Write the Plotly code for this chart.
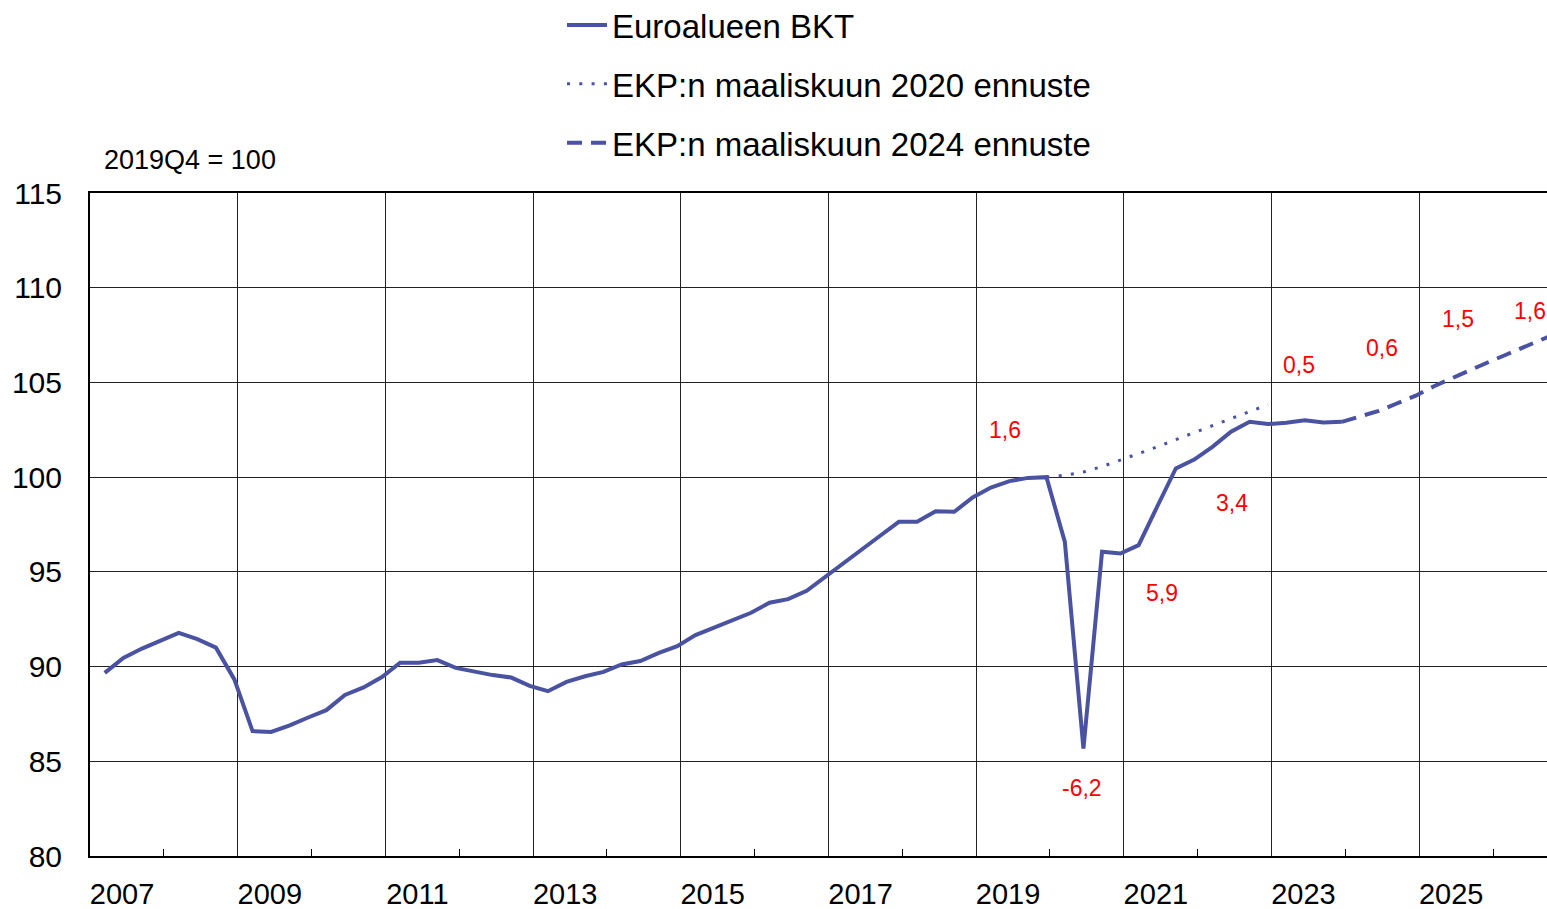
import plotly.graph_objects as go

# ---- data ----
quarters = [f"{y}Q{q}" for y in range(2007, 2024) for q in range(1, 5)]
gdp = [
    89.67, 90.46, 90.95, 91.37,
    91.78, 91.45, 91.00, 89.32,
    86.59, 86.55, 86.90, 87.31,
    87.70, 88.50, 88.90, 89.45,
    90.20, 90.20, 90.34, 89.93,
    89.72, 89.55, 89.42, 88.98,
    88.70, 89.19, 89.49, 89.72,
    90.11, 90.29, 90.72, 91.08,
    91.66, 92.06, 92.41, 92.84,
    93.37, 93.56, 94.00, 94.74,
    95.45, 96.20, 96.92, 97.64,
    97.64, 98.20, 98.17, 98.93,
    99.45, 99.79, 99.96, 100.00,
    96.58, 85.67, 96.06, 95.97,
    96.41, 98.45, 100.46, 100.93,
    101.60, 102.40, 102.92, 102.80,
    102.87, 103.00, 102.89, 102.92,
]

proj2020_quarters = ["2019Q4"] + [f"{y}Q{q}" for y in range(2020, 2023) for q in range(1, 5)]
proj2020 = [100.00, 100.10, 100.27, 100.56, 100.90, 101.24, 101.60, 101.98, 102.36,
            102.72, 103.09, 103.46, 103.83]

proj2024_quarters = ["2023Q4"] + [f"{y}Q{q}" for y in range(2024, 2027) for q in range(1, 5)]
proj2024 = [102.92, 103.20, 103.50, 103.90, 104.30, 104.80, 105.25, 105.65, 106.10,
            106.50, 106.90, 107.35, 107.75]

growth_labels = ["1,6", "-6,2", "5,9", "3,4", "0,5", "0,6", "1,5", "1,6"]
growth_x = ["2019-05-24", "2020-06-08", "2021-07-08", "2022-06-20",
            "2023-05-17", "2024-07-01", "2025-07-13", "2026-07-02"]
growth_y = [102.48, 83.58, 93.88, 98.63, 105.91, 106.81, 108.34, 108.76]

xtick_years = list(range(2007, 2027, 2))


def q_to_date(qs):
    out = []
    for s in qs:
        y, q = int(s[:4]), int(s[-1])
        out.append(f"{y}-{3 * q:02d}-15")
    return out


COLOR = "#4a52a2"
FONT = "Liberation Sans, Arial, sans-serif"

L, T, B = 90, 193, 53
PW, PH = 1457, 663

fig = go.Figure()
fig.add_trace(go.Scatter(
    x=q_to_date(quarters), y=gdp, mode="lines", name="Euroalueen BKT",
    line=dict(color=COLOR, width=4), legendgroup="a"))
fig.add_trace(go.Scatter(
    x=q_to_date(proj2020_quarters), y=proj2020, mode="lines",
    name="EKP:n maaliskuun 2020 ennuste",
    line=dict(color=COLOR, width=3, dash="3px,9.3px"), legendgroup="b"))
fig.add_trace(go.Scatter(
    x=q_to_date(proj2024_quarters), y=proj2024, mode="lines",
    name="EKP:n maaliskuun 2024 ennuste",
    line=dict(color=COLOR, width=4, dash="15px,9px"), legendgroup="c"))

for t, xx, yy in zip(growth_labels, growth_x, growth_y):
    fig.add_annotation(x=xx, y=yy, text=t, showarrow=False,
                       font=dict(color="red", size=23, family=FONT))

fig.add_annotation(xref="paper", yref="paper", x=(102 - L) / PW, y=(T + PH - 160) / PH,
                   xanchor="left", yanchor="middle", text="2019Q4 = 100",
                   showarrow=False, font=dict(color="black", size=27, family=FONT))

fig.update_layout(
    width=L + PW, height=T + PH + B,
    margin=dict(l=L, r=0, t=T, b=B, autoexpand=False),
    paper_bgcolor="white", plot_bgcolor="white",
    font=dict(family=FONT, color="black"),
    showlegend=True,
    legend=dict(x=(562 - L) / PW, y=(T + PH + 3) / PH, xanchor="left", yanchor="top",
                font=dict(size=33, family=FONT), tracegroupgap=13,
                bgcolor="rgba(0,0,0,0)", itemwidth=40),
    xaxis=dict(
        type="date",
        range=["2007-01-01", "2026-09-25"],
        tickvals=[f"{y}-01-01" for y in xtick_years],
        ticktext=[str(y) for y in xtick_years],
        ticks="", showgrid=True, gridcolor="#222", gridwidth=1,
        showline=True, linecolor="black", linewidth=2, mirror=True,
        tickfont=dict(size=29, family=FONT),
        ticklabelshift=32, ticklabelstandoff=11,
        minor=dict(tickvals=[f"{y}-01-01" for y in range(2008, 2027, 2)],
                   ticks="inside", ticklen=7, tickcolor="black", tickwidth=1,
                   showgrid=False),
        zeroline=False,
    ),
    yaxis=dict(
        range=[80, 115], dtick=5, tick0=80,
        ticks="", showgrid=True, gridcolor="#222", gridwidth=1,
        showline=True, linecolor="black", linewidth=2, mirror=True,
        tickfont=dict(size=30, family=FONT), ticklabelstandoff=20,
        zeroline=False,
    ),
)

fig.write_html(
    "out.html",
    config={"displayModeBar": False},
    post_script="document.body.style.margin='0';document.body.style.overflow='hidden';",
)
